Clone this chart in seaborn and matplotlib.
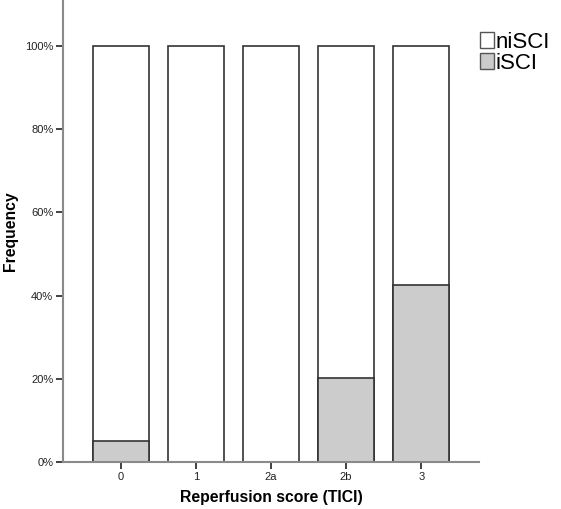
import numpy as np
import pandas as pd
import seaborn as sns
import matplotlib.pyplot as plt
import matplotlib.patches as mpatches
import matplotlib.ticker as ticker

# data (percent of patients per TICI score)
categories = ["0", "1", "2a", "2b", "3"]
isci_pct = [5.0, 0.0, 0.0, 20.2, 42.5]
total_pct = [100, 100, 100, 100, 100]

df = pd.DataFrame({"TICI": categories, "iSCI": isci_pct, "total": total_pct})

sns.set_style("white")
plt.rcParams['font.family'] = ['Liberation Sans', 'DejaVu Sans']
plt.rcParams['text.color'] = 'black'
plt.rcParams['axes.labelcolor'] = 'black'

fig = plt.figure(figsize=(5.61, 5.09), dpi=100)
ax = fig.add_axes([0.1123, 0.0923, 0.7415, 0.9077])

edge = '#333333'
sns.barplot(data=df, x="TICI", y="total", ax=ax, color='white', width=0.75,
            edgecolor=edge, linewidth=1.2, saturation=1)
sns.barplot(data=df[df["iSCI"] > 0], x="TICI", y="iSCI", order=categories, ax=ax,
            color='#cccccc', width=0.75, edgecolor=edge, linewidth=1.2, saturation=1)

ax.set_ylim(0, 111)
ax.set_xlim(-0.773, 4.77)
ax.set_yticks([0, 20, 40, 60, 80, 100])
ax.yaxis.set_major_formatter(ticker.FuncFormatter(lambda v, p: f"{int(v)}%"))

# spines
for s in ['top', 'right']:
    ax.spines[s].set_visible(False)
for s in ['left', 'bottom']:
    ax.spines[s].set_color('#8a8a8a')
    ax.spines[s].set_linewidth(1.5)

ax.tick_params(axis='both', which='major', length=5, width=1.3, color='#333333',
               labelsize=8, labelcolor='#222222', pad=2,
               left=True, bottom=True)

ax.set_xlabel("Reperfusion score (TICI)", fontsize=11.3, fontweight='bold', labelpad=6)
ax.set_ylabel("Frequency", fontsize=11.3, fontweight='bold', labelpad=5)

handles = [mpatches.Patch(facecolor='white', edgecolor='#555555', label='niSCI'),
           mpatches.Patch(facecolor='#cccccc', edgecolor='#555555', label='iSCI')]
fig.legend(handles=handles, loc='upper left', bbox_to_anchor=(0.855, 0.938),
           frameon=False, fontsize=16, handlelength=0.63, handleheight=0.72,
           handletextpad=0.1, labelspacing=0.0, borderaxespad=0, borderpad=0,
           labelcolor='black')

plt.savefig("out.png", dpi=100)
